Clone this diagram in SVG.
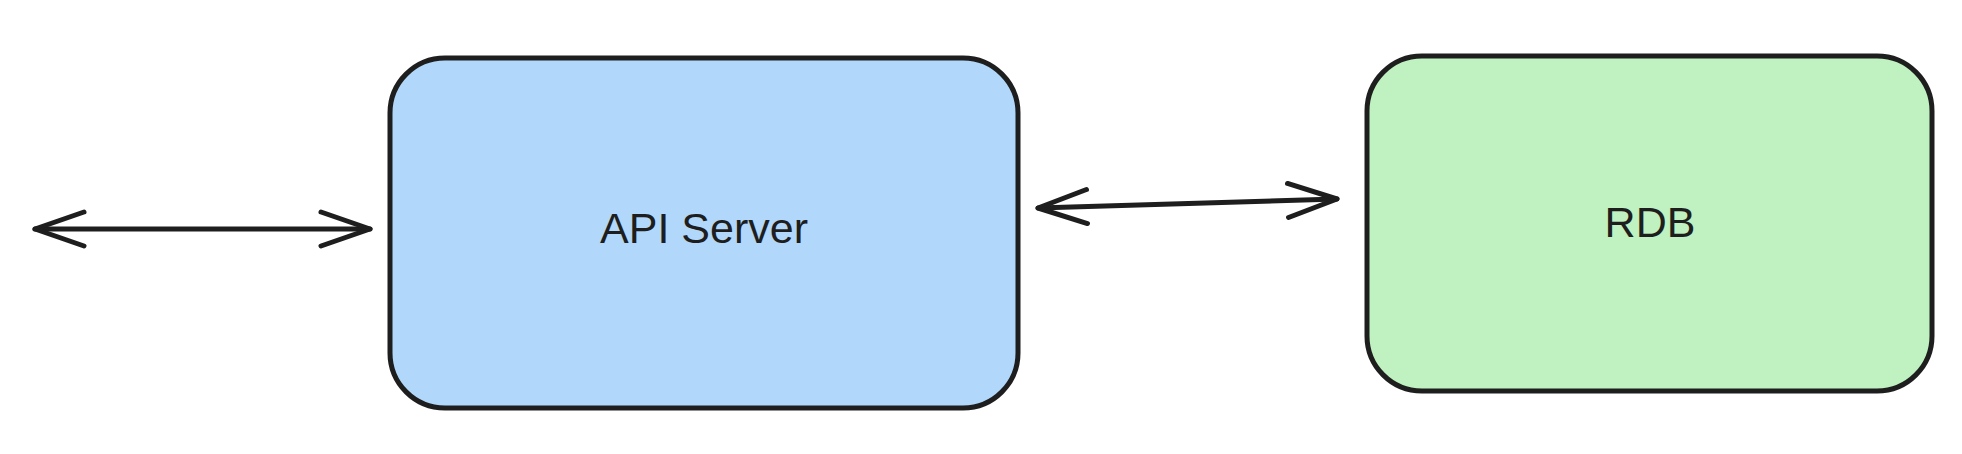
<svg xmlns="http://www.w3.org/2000/svg" width="1962" height="454" viewBox="0 0 1962 454">
  <defs>
    <marker id="head" markerUnits="userSpaceOnUse" viewBox="-58 -26 66 52" refX="0" refY="0" markerWidth="66" markerHeight="52" orient="auto-start-reverse">
      <path d="M -49 -17 L 0 0 L -49 17" fill="none" stroke="#1e1e1e" stroke-width="5" stroke-linecap="round" stroke-linejoin="round"/>
    </marker>
  </defs>
  <style>
    .box { stroke: #1e1e1e; stroke-width: 5; }
    .label { font-family: "Liberation Sans", Arial, sans-serif; font-size: 43px; fill: #1e1e1e; text-anchor: middle; }
    .conn { fill: none; stroke: #1e1e1e; stroke-width: 5; stroke-linecap: round; marker-start: url(#head); marker-end: url(#head); }
  </style>
  <rect width="1962" height="454" fill="#ffffff"/>
  <g id="connectors">
    <path class="conn" d="M 35 229 L 370 229"/>
    <path class="conn" d="M 1038 208 L 1337 199"/>
  </g>
  <g id="api-server">
    <rect class="box" x="390" y="58" width="628" height="350" rx="55" ry="55" fill="#b1d8fb"/>
    <text class="label" x="704" y="243">API Server</text>
  </g>
  <g id="rdb">
    <rect class="box" x="1367" y="56" width="565" height="335" rx="55" ry="55" fill="#bff2c0"/>
    <text class="label" x="1650" y="237">RDB</text>
  </g>
</svg>
